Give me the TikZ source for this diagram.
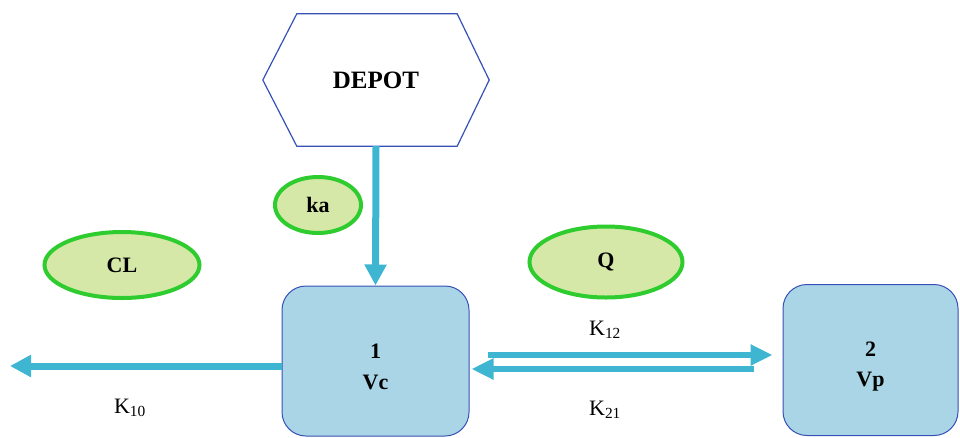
\documentclass[tikz,border=0pt]{standalone}
\usepackage{fontspec}
\setmainfont{Liberation Serif}
\usepackage{xcolor}
\usetikzlibrary{positioning, arrows.meta, shapes.geometric}
\definecolor{boxblue}{HTML}{A9D5E6}
\definecolor{edgeblue}{HTML}{3650B8}
\definecolor{flowcyan}{HTML}{3EB6D2}
\definecolor{parfill}{HTML}{D6E8A8}
\definecolor{pargreen}{HTML}{2ECC2E}

\tikzset{
  compartment/.style={draw=edgeblue, line width=1pt, fill=boxblue, rounded corners=24pt,
                      align=center, font=\fontsize{22}{30}\selectfont\bfseries},
  param/.style={ellipse, draw=pargreen, line width=4pt, fill=parfill, inner sep=0pt,
                font=\fontsize{22}{30}\selectfont\bfseries},
  flow/.style={draw=flowcyan, line width=7pt, -{Triangle[length=21pt, width=21pt]}},
  thinflow/.style={draw=flowcyan, line width=6pt, -{Triangle[length=22pt, width=20pt]}}
}

\begin{document}
\begin{tikzpicture}[x=1pt, y=-1pt, font=\fontsize{22}{30}\selectfont]
    \useasboundingbox (0,0) rectangle (960,437);

    % depot and compartments
    \node[minimum width=226pt, minimum height=132pt, font=\fontsize{25}{30}\selectfont\bfseries] (depot) at (376,80) {DEPOT};
    \draw[edgeblue, line width=1.2pt] ([xshift=34pt]depot.north west) -- ([xshift=-32pt]depot.north east)
        -- (depot.east) -- ([xshift=-32pt]depot.south east) -- ([xshift=34pt]depot.south west)
        -- (depot.west) -- cycle;
    \node[compartment, minimum width=187pt, minimum height=150pt] (central) at (375.5,361) {\rule{0pt}{27pt}1\\[1pt]Vc};
    \node[compartment, minimum width=175pt, minimum height=151pt] (periph) at (870.5,360) {\rule{0pt}{27pt}2\\[0pt]Vp};

    % parameters
    \node[param, minimum width=86pt, minimum height=56pt] (ka) at (318,205) {ka};
    \node[param, minimum width=155pt, minimum height=66pt] (cl) at (122,265) {CL};
    \node[param, minimum width=153pt, minimum height=71pt] (q) at (606,262) {Q};

    % flows
    \coordinate (sink) at (10,366);
    \draw[flow] (depot.south) -- (central.north);
    \draw[flow] ([yshift=-5pt]central.west) -- (sink);
    \draw[thinflow] ([xshift=18pt, yshift=6pt]central.east) -- ([xshift=-10pt, yshift=5pt]periph.west);
    \draw[thinflow] ([xshift=-29pt, yshift=-9pt]periph.west) -- ([xshift=2pt, yshift=-8pt]central.east);

    \node (k10) at (130,408) {K\textsubscript{10}};
    \node (k12) at (605,330) {K\textsubscript{12}};
    \node (k21) at (605,410) {K\textsubscript{21}};
  \end{tikzpicture}
\end{document}
